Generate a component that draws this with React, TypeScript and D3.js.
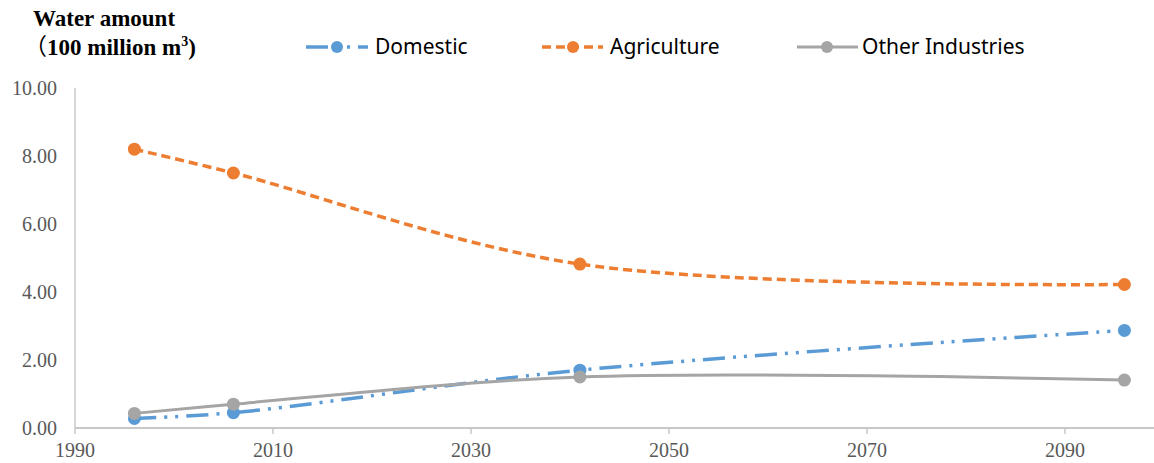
import React, { useEffect } from "react";
import * as d3 from "d3";

const years = [1996, 2006, 2041, 2096];
const domestic = [0.28, 0.45, 1.7, 2.87];
const agriculture = [8.2, 7.5, 4.82, 4.22];
const otherIndustries = [0.43, 0.7, 1.5, 1.41];
const xTicks = [1990, 2010, 2030, 2050, 2070, 2090];
const yTicks = [0, 2, 4, 6, 8, 10];

const W = 1154;
const H = 463;

const series = [
  { name: "Domestic", values: domestic, color: "#5B9BD5", dash: "22,8,3,8,3,8", width: 3.5 },
  { name: "Agriculture", values: agriculture, color: "#ED7D31", dash: "9,5", width: 3.5 },
  { name: "Other Industries", values: otherIndustries, color: "#A5A5A5", dash: null as string | null, width: 3 },
];

const legendPos = [
  { x0: 306, x1: 368, mx: 337, tx: 375 },
  { x0: 542, x1: 603, mx: 573, tx: 610 },
  { x0: 797, x1: 858, mx: 827, tx: 862 },
];

export default function App() {
  useEffect(() => {
    document.body.style.margin = "0";
  }, []);

  const x = d3.scaleLinear().domain([1990, 2100]).range([75, 1164]);
  const y = d3.scaleLinear().domain([0, 10]).range([428, 88]);

  const line = d3
    .line<number>()
    .x((_, i) => x(years[i]))
    .y((d) => y(d))
    .curve(d3.curveCatmullRom.alpha(0.5));

  const serif = "'Liberation Serif', 'DejaVu Serif', serif";
  const sans = "'Liberation Sans Narrow', 'Noto Sans', sans-serif";

  return (
    <svg width={W} height={H} style={{ display: "block", background: "#fff" }}>
      <rect width={W} height={H} fill="#ffffff" />
      {/* title */}
      <text x={33} y={26} fontFamily={serif} fontWeight="bold" fontSize={23} fill="#000">
        Water amount
      </text>
      <text x={24} y={55} fontFamily={serif} fontWeight="bold" fontSize={23} fill="#000">
        <tspan fontFamily="'Noto Sans CJK SC', sans-serif" fontWeight="normal">（</tspan>100 million m
        <tspan fontSize={14} dy={-9}>3</tspan>
        <tspan dy={9}>)</tspan>
      </text>

      {/* legend */}
      {series.map((s, i) => {
        const p = legendPos[i];
        return (
          <g key={s.name}>
            <line
              x1={p.x0}
              x2={p.x1}
              y1={47}
              y2={47}
              stroke={s.color}
              strokeWidth={s.width}
              strokeDasharray={s.dash ?? undefined}
            />
            <circle cx={p.mx} cy={47} r={6} fill={s.color} />
            <text x={p.tx} y={54} fontFamily={sans} fontSize={21} fill="#000">
              {s.name}
            </text>
          </g>
        );
      })}

      {/* axes */}
      <line x1={x(1990)} x2={x(1990)} y1={y(10)} y2={y(0)} stroke="#c8c8c8" strokeWidth={1.5} />
      <line x1={x(1990)} x2={W} y1={y(0)} y2={y(0)} stroke="#c8c8c8" strokeWidth={2} />
      {xTicks.map((t) => (
        <g key={t}>
          <line x1={x(t)} x2={x(t)} y1={y(0)} y2={y(0) + 6} stroke="#c8c8c8" strokeWidth={1.5} />
          <text x={x(t)} y={457} textAnchor="middle" fontFamily={serif} fontSize={20} fill="#595959">
            {t}
          </text>
        </g>
      ))}
      {yTicks.map((t) => (
        <text key={t} x={57} y={y(t) + 7} textAnchor="end" fontFamily={serif} fontSize={20} fill="#595959">
          {d3.format(".2f")(t)}
        </text>
      ))}

      {/* series */}
      {series.map((s) => (
        <g key={s.name}>
          <path
            d={line(s.values) ?? ""}
            fill="none"
            stroke={s.color}
            strokeWidth={s.width}
            strokeDasharray={s.dash ?? undefined}
          />
          {s.values.map((v, i) => (
            <circle key={i} cx={x(years[i])} cy={y(v)} r={6.5} fill={s.color} />
          ))}
        </g>
      ))}
    </svg>
  );
}
